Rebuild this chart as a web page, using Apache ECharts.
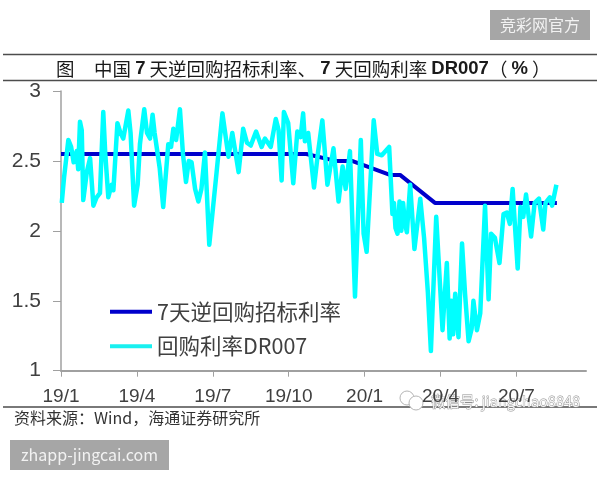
<!DOCTYPE html>
<html>
<head>
<meta charset="utf-8">
<style>html,body{margin:0;padding:0;background:#fff}#chart{width:600px;height:480px}</style>
<script src="https://cdn.jsdelivr.net/npm/echarts@6/dist/echarts.min.js"></script>
</head>
<body>
<div id="chart"></div>
<script>
// Positions are months since January 2019.
const tickMonths = [0, 3, 6, 9, 12, 15, 18];
const tickLabels = ['19/1', '19/4', '19/7', '19/10', '20/1', '20/4', '20/7'];
const axisEndMonth = 20.75;

const policyName = '7天逆回购招标利率';
const policyMonths = [0, 9.7, 10.85, 11.5, 13.0, 13.4, 14.78, 19.6];
const policyRates = [2.55, 2.55, 2.5, 2.5, 2.4, 2.4, 2.2, 2.2];

const repoName = '回购利率DR007';
const repoMonths = [
  0.03, 0.12, 0.29, 0.40, 0.50, 0.62, 0.68, 0.75, 0.82, 0.88, 1.02, 1.15, 1.28, 1.41, 1.54, 1.67, 1.75,
  1.87, 2.00, 2.07, 2.23, 2.35, 2.46, 2.66, 2.75, 2.89, 3.03, 3.12, 3.29, 3.40, 3.52, 3.62, 3.70,
  3.78, 3.90, 4.04, 4.24, 4.35, 4.44, 4.55, 4.70, 4.82, 4.94, 5.05, 5.16, 5.30, 5.43, 5.55, 5.69, 5.86,
  6.15, 6.38, 6.62, 6.77, 7.02, 7.20, 7.35, 7.50, 7.71, 7.93, 8.06, 8.29, 8.49, 8.60, 8.72, 8.81,
  8.98, 9.18, 9.34, 9.47, 9.57, 9.64, 9.77, 10.00, 10.15, 10.33, 10.53, 10.77, 10.97, 11.13, 11.25, 11.42,
  11.62, 11.85, 11.96, 12.08, 12.36, 12.50, 12.68, 12.97, 13.10, 13.16, 13.22, 13.30, 13.38, 13.45, 13.52, 13.60, 13.67, 13.80,
  13.97, 14.20, 14.35, 14.50, 14.62, 14.83, 15.08, 15.16, 15.25, 15.36, 15.43, 15.50, 15.58, 15.65, 15.71, 15.85, 15.97, 16.11, 16.23, 16.30, 16.35,
  16.44, 16.57, 16.76, 16.90, 17.00, 17.15, 17.33, 17.49, 17.62, 17.74, 17.85, 18.05, 18.16, 18.27, 18.38, 18.58,
  18.72, 18.89, 19.06, 19.15, 19.32, 19.41, 19.58
];
const repoRates = [
  2.20, 2.38, 2.65, 2.60, 2.49, 2.57, 2.44, 2.78, 2.72, 2.22, 2.42, 2.52, 2.18, 2.24, 2.27, 2.85, 2.55,
  2.24, 2.33, 2.29, 2.77, 2.70, 2.66, 2.86, 2.70, 2.18, 2.33, 2.62, 2.87, 2.70, 2.66, 2.83, 2.70,
  2.60, 2.45, 2.17, 2.62, 2.60, 2.73, 2.65, 2.87, 2.55, 2.35, 2.50, 2.49, 2.30, 2.21, 2.30, 2.56, 1.90,
  2.42, 2.84, 2.53, 2.70, 2.42, 2.73, 2.63, 2.61, 2.71, 2.60, 2.66, 2.60, 2.80, 2.72, 2.36, 2.85,
  2.77, 2.34, 2.71, 2.67, 2.84, 2.64, 2.70, 2.31, 2.55, 2.79, 2.33, 2.59, 2.21, 2.46, 2.30, 2.57,
  1.53, 2.65, 1.98, 1.85, 2.79, 2.55, 2.54, 2.60, 2.12, 2.20, 2.02, 1.98, 2.21, 2.00, 2.20, 2.05, 1.99, 2.33,
  1.87, 2.23, 1.95, 1.56, 1.14, 2.10, 1.29, 1.52, 1.77, 1.23, 1.50, 1.26, 1.55, 1.55, 1.24, 1.91, 1.55, 1.21, 1.30, 1.50, 1.49,
  1.29, 1.41, 2.18, 1.51, 1.98, 1.95, 1.77, 2.12, 2.13, 2.05, 2.30, 1.73, 2.17, 2.10, 2.26, 1.96,
  2.20, 2.23, 2.01, 2.20, 2.24, 2.18, 2.33
];

const cjk = '"Noto Sans CJK SC", "Liberation Sans", sans-serif';
const latin = '"Liberation Sans", Arial, sans-serif';
const ruleColor = '#4d4d4d';
const rule = (y) => ({
  type: 'line',
  shape: { x1: 3, y1: y, x2: 597, y2: y },
  style: { stroke: ruleColor, lineWidth: 1.5 }
});
const badge = (x, y, w, h, text, font) => ({
  type: 'group',
  children: [
    { type: 'rect', shape: { x, y, width: w, height: h }, style: { fill: '#a6a6a6' } },
    { type: 'text', x: x + w / 2, y: y + h / 2,
      style: { text, fill: '#f2f2f2', font, align: 'center', verticalAlign: 'middle' } }
  ]
});

const chart = echarts.init(document.getElementById('chart'), null, { renderer: 'canvas' });
chart.setOption({
  animation: false,
  backgroundColor: '#fff',
  title: [
    {
      left: 51, top: 54,
      text: '{h|图}中国 {b|7} 天逆回购招标利率、 {b|7} 天回购利率 {b|DR007}（ {b|%} ）',
      textStyle: {
        fontFamily: cjk, fontSize: 18.5, fontWeight: 'normal', color: '#1a1a1a',
        rich: {
          h: { fontFamily: cjk, fontSize: 18.5, color: '#1a1a1a', width: 38, align: 'left' },
          b: { fontFamily: latin, fontSize: 18.5, fontWeight: 'bold', color: '#1a1a1a' }
        }
      }
    },
    {
      left: 9, top: 405,
      text: '资料来源：Wind，海通证券研究所',
      textStyle: { fontFamily: cjk, fontSize: 16, fontWeight: 'normal', color: '#333' }
    }
  ],
  grid: { left: 61, right: 14, top: 91, bottom: 109.3 },
  legend: {
    left: 105, top: 296, orient: 'vertical', itemWidth: 42, itemHeight: 4, itemGap: 13,
    icon: 'rect',
    data: [policyName, repoName],
    textStyle: { fontFamily: cjk, fontSize: 21.5, color: '#404040' }
  },
  xAxis: {
    type: 'value', min: 0, max: axisEndMonth, splitLine: { show: false },
    axisLine: { lineStyle: { color: '#a0a0a0', width: 2 } },
    axisTick: { customValues: tickMonths, length: 6, lineStyle: { color: '#a0a0a0', width: 1 } },
    axisLabel: {
      customValues: tickMonths, margin: 17,
      fontFamily: latin, fontSize: 19, color: '#404040',
      formatter: (v) => tickLabels[tickMonths.indexOf(v)] ?? ''
    }
  },
  yAxis: {
    type: 'value', min: 1, max: 3, interval: 0.5, splitLine: { show: false },
    axisLine: { show: true, lineStyle: { color: '#a0a0a0', width: 1.5 } },
    axisTick: { show: true, length: 8, lineStyle: { color: '#a0a0a0', width: 1 } },
    axisLabel: { margin: 20, fontFamily: latin, fontSize: 21, color: '#404040' }
  },
  series: [
    {
      name: policyName, type: 'line', showSymbol: false, z: 2,
      data: policyMonths.map((m, i) => [m, policyRates[i]]),
      itemStyle: { color: '#0000cc' },
      lineStyle: { color: '#0000cc', width: 4 }
    },
    {
      name: repoName, type: 'line', showSymbol: false, z: 3,
      data: repoMonths.map((m, i) => [m, repoRates[i]]),
      itemStyle: { color: '#19f0f0' },
      lineStyle: { color: '#00ffff', width: 4.5, join: 'round' }
    }
  ],
  graphic: [
    rule(54.5), rule(80.5), rule(407),
    badge(490, 10, 100, 30, '竞彩网官方', '16px ' + cjk),
    badge(10, 440, 159, 30, 'zhapp-jingcai.com', '16px ' + cjk),
    {
      type: 'group', z: 50,
      children: [
        { type: 'circle', shape: { cx: 407, cy: 398, r: 7 },
          style: { fill: '#fff', stroke: '#b5b5b5', lineWidth: 1 } },
        { type: 'circle', shape: { cx: 416, cy: 403, r: 7 },
          style: { fill: '#fff', stroke: '#b5b5b5', lineWidth: 1 } },
        { type: 'text', x: 431, y: 401,
          style: {
            text: '微信号: jiangchao8848', font: '14.5px ' + cjk,
            fill: '#f4f4f4', stroke: '#8f8f8f', lineWidth: 0.8, verticalAlign: 'middle'
          } }
      ]
    }
  ]
});
</script>
</body>
</html>
